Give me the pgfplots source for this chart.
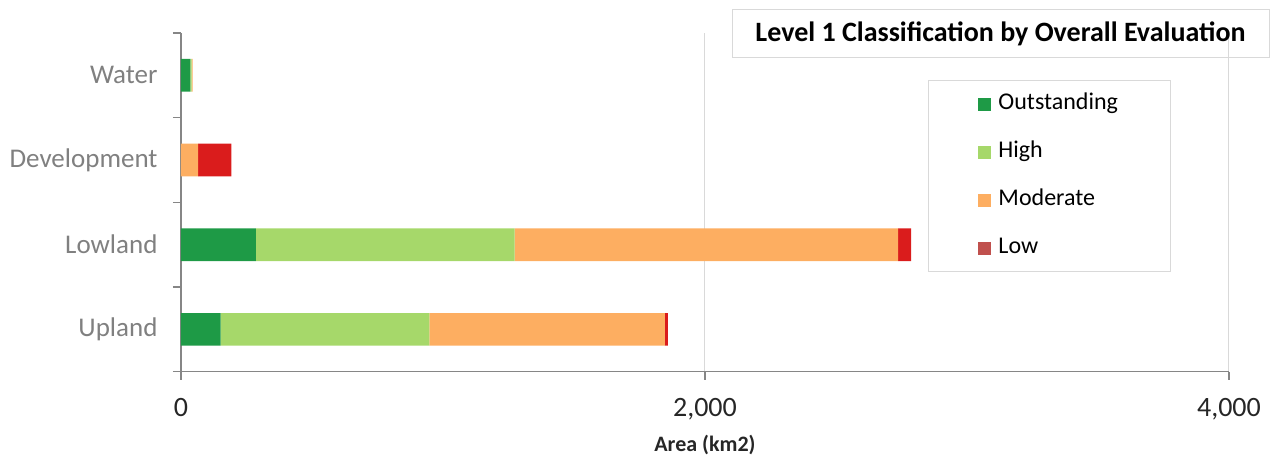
\documentclass[border=0pt]{standalone}
\usepackage{pgfplots}
\pgfplotsset{compat=1.18}
\usepackage{fontspec}
\setmainfont{Carlito}
\definecolor{cOut}{RGB}{30,154,70}
\definecolor{cHigh}{RGB}{166,216,106}
\definecolor{cMod}{RGB}{253,174,97}
\definecolor{cLow}{RGB}{218,28,28}
\definecolor{cLowLeg}{RGB}{192,80,77}
\definecolor{axgray}{RGB}{134,134,134}
\definecolor{gridgray}{RGB}{217,217,217}
\definecolor{labgray}{RGB}{128,128,128}
\begin{document}
\begin{tikzpicture}
\begin{axis}[
  at={(0,0)}, anchor=south west,
  scale only axis, width=1048bp, height=338.7bp,
  xbar stacked, bar width=0.386,
  xmin=0, xmax=4000, ymin=-0.5, ymax=3.5,
  axis lines*=left,
  axis line style={draw=axgray, line width=1.2bp},
  tick align=outside, major tick length=8bp,
  tick style={draw=axgray, line width=1.2bp},
  xtick={0,2000,4000}, xticklabels={0,{2,000},{4,000}},
  xmajorgrids, grid style={draw=gridgray, line width=1bp},
  ytick={-0.5,0.5,1.5,2.5,3.5}, yticklabels={},
  extra y ticks={0,1,2,3},
  extra y tick labels={Upland,Lowland,Development,Water},
  extra y tick style={tick style={draw=none}},
  yticklabel style={font=\fontsize{27bp}{31bp}\selectfont, text=labgray, xshift=-12bp},
  xticklabel style={font=\fontsize{28bp}{32bp}\selectfont, text=black!85, yshift=-15bp},
  xlabel={Area (km2)},
  xlabel style={font=\fontsize{22bp}{26bp}\selectfont\bfseries, text=black!85, yshift=-8bp},
  legend cell align=left,
  legend style={at={(0.7128,0.8612)}, anchor=north west, draw=gridgray, line width=1bp,
    font=\fontsize{24bp}{28bp}\selectfont, inner xsep=50bp, inner ysep=11bp, row sep=23bp,
    nodes={text height=16bp, text depth=5bp, inner sep=2bp},
    /tikz/every odd column/.append style={column sep=5bp}},
]
\addplot[fill=cOut, draw=none, legend image code/.code={\fill[cOut] (0bp,-6.5bp) rectangle (13bp,6.5bp);}]
  coordinates {(151,0) (286,1) (0,2) (36,3)};
\addlegendentry{Outstanding}
\addplot[fill=cHigh, draw=none, legend image code/.code={\fill[cHigh] (0bp,-6.5bp) rectangle (13bp,6.5bp);}]
  coordinates {(797,0) (987,1) (0,2) (5,3)};
\addlegendentry{High}
\addplot[fill=cMod, draw=none, legend image code/.code={\fill[cMod] (0bp,-6.5bp) rectangle (13bp,6.5bp);}]
  coordinates {(899,0) (1464,1) (65,2) (3,3)};
\addlegendentry{Moderate}
\addplot[fill=cLow, draw=none, legend image code/.code={\fill[cLowLeg] (0bp,-6.5bp) rectangle (13bp,6.5bp);}]
  coordinates {(11,0) (50,1) (127,2) (0,3)};
\addlegendentry{Low}
\end{axis}
\node[draw=gridgray, line width=1bp, minimum width=537bp, minimum height=48bp,
  font=\fontsize{28bp}{32bp}\selectfont\bfseries, text=black] at (819.5bp,337.7bp)
  {Level 1 Classification by Overall Evaluation};
\pgfresetboundingbox
\path[use as bounding box] (-181bp,-87.3bp) rectangle (1098bp,371.7bp);
\end{tikzpicture}
\end{document}
